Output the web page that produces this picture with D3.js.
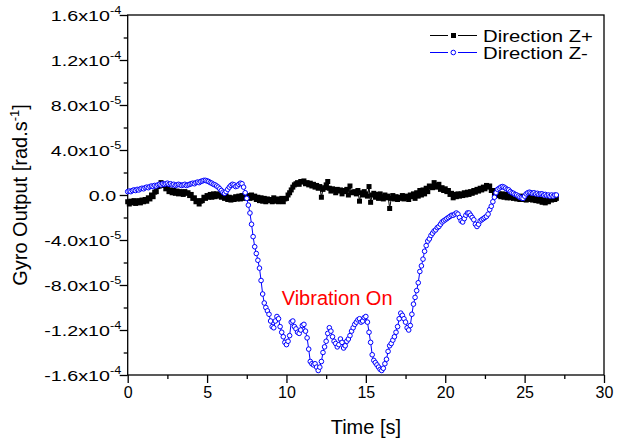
<!DOCTYPE html>
<html>
<head>
<meta charset="utf-8">
<script src="https://cdn.jsdelivr.net/npm/d3@7"></script>
<style>
  body { margin: 0; background: #fff; }
  text { font-family: Arial, "Liberation Sans", sans-serif; }
</style>
</head>
<body>
<svg id="chart" width="621" height="441"></svg>
<script>
// axis ticks
const xTicks = [0, 5, 10, 15, 20, 25, 30];
const yTicks = [16, 12, 8, 4, 0, -4, -8, -12, -16];          // in units of 1e-5 rad/s
const yTickMant = ["1.6", "1.2", "8.0", "4.0", "0.0", "-4.0", "-8.0", "-1.2", "-1.6"];
const yTickExp = ["-4", "-4", "-5", "-5", "", "-5", "-5", "-4", "-4"];
const seriesNames = ["Direction Z+", "Direction Z-"];

// sampling step of both records [s]
const dt = 0.1;

// Direction Z+ (x1e-5 rad/s), one row per second
const zPlus = [
  -0.6,-0.8,-0.55,-0.7,-0.5,-0.75,-0.6,-0.5,-0.7,-0.45,
  -0.6,-0.4,-0.55,-0.25,-0.35,0.0,-0.15,0.25,0.3,0.75,
  0.8,1.1,0.85,0.9,0.55,0.6,0.3,0.45,0.2,0.4,
  0.15,0.35,0.1,0.3,0.25,0.05,0.3,0.15,0.2,-0.05,
  0.05,-0.3,-0.25,-0.6,-0.5,-0.8,-0.55,-0.5,-0.2,-0.3,
  -0.05,-0.2,0.05,-0.2,0.1,-0.15,0.1,-0.1,0.05,-0.2,
  -0.05,-0.3,-0.1,-0.4,-0.2,-0.45,-0.25,-0.4,-0.15,-0.35,
  -0.1,-0.35,-0.05,-0.3,0.0,-0.25,-0.05,-0.3,0.0,-0.25,
  -0.1,-0.4,-0.2,-0.5,-0.25,-0.55,-0.3,-0.6,-0.35,-0.5,
  -0.4,-0.6,-0.25,-0.55,-0.35,-0.6,-0.4,-0.3,-0.6,-0.35,
  -0.3,0.0,0.2,0.45,0.7,0.9,1.0,1.1,0.95,1.2,
  1.15,1.25,1.0,1.1,0.9,1.05,0.8,0.95,0.7,0.85,
  0.6,0.75,-0.2,0.5,0.65,0.9,1.2,0.6,0.35,0.55,
  0.45,0.2,0.5,0.35,0.45,0.1,0.4,0.3,0.5,0.0,
  0.8,0.2,0.25,0.3,0.1,0.4,-0.55,0.2,0.0,0.3,
  0.1,-0.1,0.75,-0.65,0.0,0.15,-0.2,0.05,-0.3,0.1,
  -0.15,-0.35,0.0,-0.25,-0.1,-1.2,-0.3,-0.05,-0.35,-0.15,
  -0.4,-0.2,-0.3,-0.05,-0.35,-0.1,-0.25,-0.4,0.0,-0.15,
  0.1,-0.3,0.2,-0.1,0.4,0.0,0.45,0.1,0.6,0.3,
  0.8,0.75,0.65,1.1,0.7,0.85,0.95,0.5,0.65,0.4,
  0.55,0.3,0.4,0.05,0.15,-0.25,0.05,-0.15,0.1,-0.1,
  0.1,-0.05,0.2,0.0,0.25,0.05,0.3,0.15,0.4,0.25,
  0.5,0.35,0.6,0.45,0.7,0.55,0.85,0.7,0.8,0.4,
  0.4,0.1,0.25,-0.05,0.1,-0.15,0.1,-0.2,0.05,-0.25,
  -0.05,-0.25,-0.1,-0.3,-0.15,-0.35,-0.2,-0.4,-0.1,-0.4,
  -0.15,-0.45,-0.2,-0.4,-0.25,-0.45,-0.3,-0.5,-0.35,-0.55,
  -0.4,-0.65,-0.45,-0.7,-0.5,-0.6,-0.3,-0.45,-0.2,-0.4,
  -0.3
];

// Direction Z- (x1e-5 rad/s), one row per second
const zMinus = [
  0.3,0.35,0.3,0.4,0.45,0.4,0.5,0.45,0.55,0.6,
  0.55,0.65,0.7,0.65,0.75,0.8,0.75,0.85,0.8,0.9,
  0.95,0.9,1.0,0.95,1.0,1.05,0.95,1.0,0.9,0.95,
  0.85,0.9,0.95,0.9,0.85,0.9,0.95,0.85,0.9,0.95,
  1.0,1.05,1.0,1.1,1.15,1.1,1.2,1.25,1.3,1.3,
  1.25,1.2,1.1,1.05,0.95,0.9,0.8,0.7,0.55,0.4,
  0.25,0.15,0.3,0.5,0.7,0.85,0.95,0.9,0.75,0.8,
  0.95,1.05,1.0,0.7,0.2,-0.3,-0.9,-1.6,-2.6,-3.7,
  -4.6,-5.2,-5.8,-6.5,-7.6,-8.8,-9.6,-10.0,-10.3,-10.6,
  -11.2,-11.7,-11.8,-11.2,-10.8,-11.0,-11.7,-12.2,-12.6,-13.1,
  -13.3,-13.0,-12.5,-11.3,-11.2,-11.7,-11.9,-12.2,-12.3,-12.0,
  -11.6,-11.5,-12.1,-12.7,-13.7,-14.8,-15.0,-15.1,-15.0,-15.3,
  -15.6,-15.3,-14.8,-14.0,-13.5,-13.0,-12.3,-11.8,-12.1,-12.6,
  -13.0,-13.2,-13.5,-13.3,-12.8,-13.1,-13.6,-13.4,-13.0,-12.8,
  -12.5,-12.1,-11.8,-11.5,-11.3,-11.1,-11.0,-11.3,-11.2,-10.9,
  -10.8,-11.3,-12.2,-13.1,-14.2,-14.7,-14.9,-15.1,-15.3,-15.5,
  -15.6,-15.4,-15.0,-14.6,-13.9,-13.4,-13.2,-12.9,-12.6,-12.2,
  -11.7,-11.0,-10.5,-10.7,-11.0,-11.3,-11.8,-12.0,-11.6,-10.6,
  -9.7,-9.1,-8.5,-7.8,-6.8,-6.3,-5.7,-5.0,-4.5,-4.1,
  -3.9,-3.6,-3.4,-3.2,-3.1,-2.9,-2.8,-2.6,-2.4,-2.3,
  -2.2,-2.1,-2.0,-1.9,-1.8,-1.8,-1.7,-1.6,-1.7,-2.0,
  -2.3,-2.4,-2.1,-1.8,-1.6,-1.6,-1.8,-2.0,-2.2,-2.6,
  -2.8,-2.6,-2.3,-2.2,-2.1,-2.0,-1.9,-1.7,-1.3,-1.0,
  -0.6,-0.2,0.2,0.5,0.6,0.7,0.75,0.7,0.6,0.5,
  0.45,0.3,0.2,0.15,0.05,0.0,-0.1,-0.2,-0.25,-0.3,
  -0.1,0.1,0.2,0.25,0.2,0.15,0.2,0.1,0.15,0.05,
  0.1,0.1,0.0,0.05,-0.05,0.0,-0.1,0.0,-0.1,0.0,
  0.0
];

const margin = {top: 15, right: 17, bottom: 66, left: 127.7};
const W = 621, H = 441;
const width = W - margin.left - margin.right;
const height = H - margin.top - margin.bottom;

// the reference's tick and legend lettering is drawn wider than normal
const stretch = 1.27;

const svg = d3.select("#chart");
const g = svg.append("g").attr("transform", `translate(${margin.left},${margin.top})`);

const x = d3.scaleLinear().domain([0, 30]).range([0, width]);
const y = d3.scaleLinear().domain([-16, 16]).range([height, 0]);

const toPts = arr => arr.map((v, i) => ({t: i * dt, v: v}));
const plusPts = toPts(zPlus);
const minusPts = toPts(zMinus);

// frame
g.append("rect").attr("width", width).attr("height", height)
  .attr("fill", "none").attr("stroke", "#000").attr("stroke-width", 1.3);

// minor ticks
g.append("g").attr("transform", `translate(0,${height})`)
  .call(d3.axisBottom(x).tickValues(d3.range(2.5, 30, 5)).tickSize(4).tickFormat(""))
  .call(a => a.select(".domain").remove());
g.append("g")
  .call(d3.axisLeft(y).tickValues(d3.range(-14, 16, 4)).tickSize(4).tickFormat(""))
  .call(a => a.select(".domain").remove());

// major ticks
const xAxisG = g.append("g").attr("transform", `translate(0,${height})`)
  .call(d3.axisBottom(x).tickValues(xTicks).tickSize(8).tickPadding(4))
  .call(a => a.select(".domain").remove());
xAxisG.selectAll("text").attr("font-size", 16).attr("fill", "#000");

g.append("g")
  .call(d3.axisLeft(y).tickValues(yTicks).tickSize(8).tickFormat(""))
  .call(a => a.select(".domain").remove());

g.selectAll(".tick line").attr("stroke", "#000").attr("stroke-width", 1.3);

// y tick labels with superscript exponents
yTicks.forEach((v, i) => {
  const lg = g.append("g")
    .attr("transform", `translate(${yTickExp[i] ? -6.5 : -11.5},${y(v) + 6}) scale(${stretch},1)`);
  const t = lg.append("text")
    .attr("text-anchor", "end")
    .attr("font-size", 15.5)
    .attr("fill", "#000");
  if (yTickExp[i]) {
    t.append("tspan").text(yTickMant[i] + "x10");
    t.append("tspan").attr("dy", -7).attr("font-size", 10).text(yTickExp[i]);
  } else {
    t.text(yTickMant[i]);
  }
});

// series
const line = d3.line().x(d => x(d.t)).y(d => y(d.v));

g.append("path").datum(plusPts).attr("d", line)
  .attr("fill", "none").attr("stroke", "#000").attr("stroke-width", 1);
g.append("g").selectAll("rect").data(plusPts).join("rect")
  .attr("x", d => x(d.t) - 2.5).attr("y", d => y(d.v) - 2.5)
  .attr("width", 5).attr("height", 5).attr("fill", "#000");

g.append("path").datum(minusPts).attr("d", line)
  .attr("fill", "none").attr("stroke", "#0000ff").attr("stroke-width", 1);
g.append("g").selectAll("circle").data(minusPts).join("circle")
  .attr("cx", d => x(d.t)).attr("cy", d => y(d.v)).attr("r", 2.3)
  .attr("fill", "#fff").attr("stroke", "#0000ff").attr("stroke-width", 1);

// annotation
g.append("text").attr("x", x(9.7)).attr("y", y(-9.8))
  .attr("font-size", 20).attr("fill", "#ff0000").text("Vibration On");

// axis titles
svg.append("text").attr("x", margin.left + width / 2).attr("y", 434)
  .attr("text-anchor", "middle").attr("font-size", 20).text("Time [s]");

const yt = svg.append("text")
  .attr("transform", `translate(27,${margin.top + height / 2}) rotate(-90)`)
  .attr("text-anchor", "middle").attr("font-size", 20);
yt.append("tspan").text("Gyro Output [rad.s");
yt.append("tspan").attr("dy", -8).attr("font-size", 13).text("-1");
yt.append("tspan").attr("dy", 8).text("]");

// legend
const legend = svg.append("g").attr("transform", "translate(430,0)");
const legRows = [
  {name: seriesNames[0], color: "#000", yc: 35.5},
  {name: seriesNames[1], color: "#0000ff", yc: 52.5}
];
legRows.forEach((r, i) => {
  const row = legend.append("g").attr("transform", `translate(0,${r.yc})`);
  row.append("line").attr("x1", 0).attr("x2", 18).attr("stroke", r.color).attr("stroke-width", 1);
  row.append("line").attr("x1", 28).attr("x2", 47).attr("stroke", r.color).attr("stroke-width", 1);
  if (i === 0) {
    row.append("rect").attr("x", 21).attr("y", -2.5).attr("width", 5).attr("height", 5).attr("fill", "#000");
  } else {
    row.append("circle").attr("cx", 23.3).attr("cy", 0).attr("r", 2.3)
      .attr("fill", "#fff").attr("stroke", r.color).attr("stroke-width", 1);
  }
  row.append("g").attr("transform", `translate(53,6.5) scale(${stretch},1)`)
    .append("text").attr("font-size", 16).attr("fill", "#000").text(r.name);
});
</script>
</body>
</html>
